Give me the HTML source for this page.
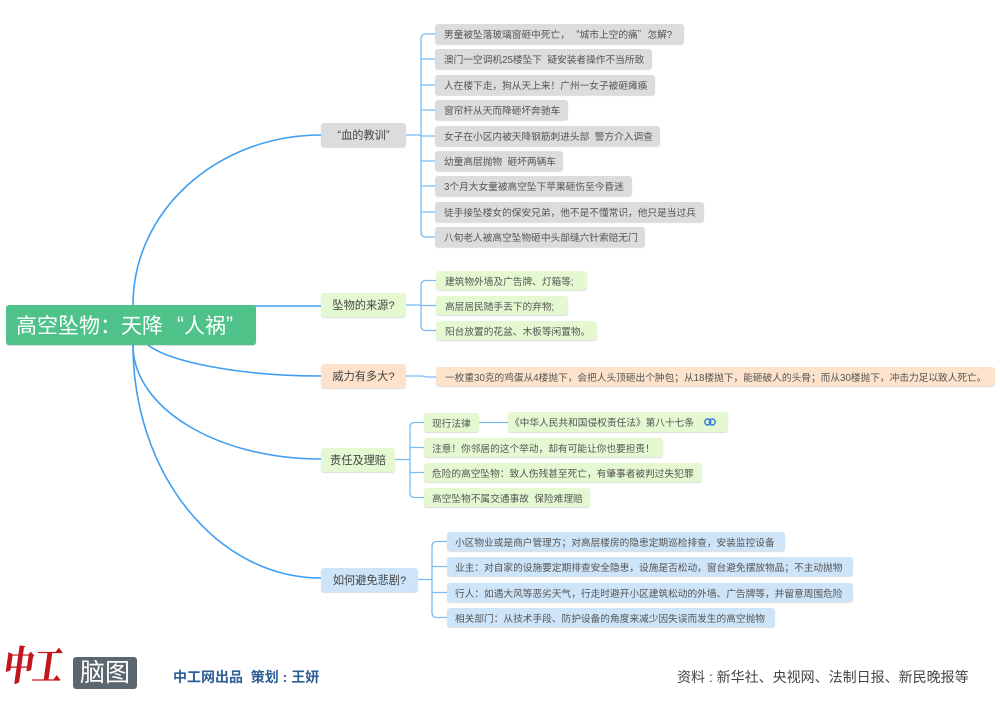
<!DOCTYPE html>
<html><head><meta charset="utf-8">
<style>
*{margin:0;padding:0;box-sizing:border-box}
body{width:1000px;height:710px;background:#fff;position:relative;overflow:hidden;font-family:"Liberation Sans","Noto Sans CJK SC",sans-serif}
svg{position:absolute;left:0;top:0}
.b{position:absolute;white-space:nowrap;border-radius:3px;box-shadow:0 1px 1px rgba(0,0,0,.14);display:flex;align-items:center}
.lf{font-size:9.7px;color:#555;padding-left:9px;height:20px}
.nd{font-size:11.2px;color:#444;justify-content:center;height:24px}
.g{background:#dcdcdc}
.gr{background:#e4f8d2}
.pe{background:#fde3cb}
.bl{background:#cde4f9}
.q{display:inline-block;width:1em}
.ql{text-align:right}
.qr{text-align:left}
</style></head><body>
<svg width="1000" height="710" viewBox="0 0 1000 710" fill="none">
<g stroke="#3f9ff2" stroke-width="1.6">
<path d="M133,305 C133,211 217,135 321,135"/>
<path d="M240,306 H321"/>
<path d="M148,345 C170,362 240,376 321,376"/>
<path d="M133,345 C133,408 217,459 321,459"/>
<path d="M133,345 C133,474 217,578 321,578"/>
</g>
<g stroke="#7dbcf2" stroke-width="1.3">
<path d="M406,135 H421"/>
<path d="M435,34 H426 Q421,34 421,39 V232 Q421,237 426,237 H435"/>
<path d="M421,59 H435 M421,85 H435 M421,110 H435 M421,136 H435 M421,161 H435 M421,186 H435 M421,212 H435"/>
<path d="M406,305 H421"/>
<path d="M436,280.5 H426 Q421,280.5 421,285.5 V325.5 Q421,330.5 426,330.5 H436"/>
<path d="M421,305.5 H436"/>
<path d="M406,376 H421 Q424,376 426,377 H436"/>
<path d="M395,459.5 H410"/>
<path d="M424,422.5 H415 Q410,422.5 410,427.5 V492.5 Q410,497.5 415,497.5 H424"/>
<path d="M410,447.5 H424 M410,472.5 H424"/>
<path d="M479,422.5 H508"/>
<path d="M418,579.5 H432"/>
<path d="M447,541.5 H437 Q432,541.5 432,546.5 V612.5 Q432,617.5 437,617.5 H447"/>
<path d="M432,566.5 H447 M432,592.5 H447"/>
</g>
</svg>

<!-- root -->
<div class="b" style="left:6px;top:305px;width:250px;height:40px;background:#4fc28a;color:#fff;font-size:21px;padding-left:10px;">高空坠物：天降<span class="q ql">“</span>人祸<span class="q qr">”</span></div>

<!-- branch 1 -->
<div class="b nd g" style="left:321px;top:123px;width:85px;"><span class="q ql" style="width:.7em">“</span>血的教训<span class="q qr" style="width:.7em">”</span></div>
<div class="b lf g" style="left:435px;top:24px;width:249px;">男童被坠落玻璃窗砸中死亡，<span class="q ql">“</span>城市上空的痛<span class="q qr">”</span>怎解?</div>
<div class="b lf g" style="left:435px;top:49px;width:217px;">澳门一空调机25楼坠下&nbsp;&nbsp;疑安装者操作不当所致</div>
<div class="b lf g" style="left:435px;top:75px;width:220px;">人在楼下走，狗从天上来！广州一女子被砸瘫痪</div>
<div class="b lf g" style="left:435px;top:100px;width:133px;">窗帘杆从天而降砸坏奔驰车</div>
<div class="b lf g" style="left:435px;top:126px;width:225px;">女子在小区内被天降钢筋刺进头部&nbsp;&nbsp;警方介入调查</div>
<div class="b lf g" style="left:435px;top:151px;width:128px;">幼童高层抛物&nbsp;&nbsp;砸坏两辆车</div>
<div class="b lf g" style="left:435px;top:176px;width:197px;">3个月大女童被高空坠下苹果砸伤至今昏迷</div>
<div class="b lf g" style="left:435px;top:202px;width:269px;">徒手接坠楼女的保安兄弟，他不是不懂常识，他只是当过兵</div>
<div class="b lf g" style="left:435px;top:227px;width:210px;">八旬老人被高空坠物砸中头部缝六针索赔无门</div>

<!-- branch 2 -->
<div class="b nd gr" style="left:321px;top:293px;width:85px;">坠物的来源?</div>
<div class="b lf gr" style="left:436px;top:271px;width:151px;height:19px;">建筑物外墙及广告牌、灯箱等;</div>
<div class="b lf gr" style="left:436px;top:296px;width:132px;height:19px;">高层居民随手丢下的弃物;</div>
<div class="b lf gr" style="left:436px;top:321px;width:161px;height:19px;">阳台放置的花盆、木板等闲置物。</div>

<!-- branch 3 -->
<div class="b nd pe" style="left:321px;top:364px;width:85px;">威力有多大?</div>
<div class="b lf pe" style="left:436px;top:367px;width:559px;height:19px;">一枚重30克的鸡蛋从4楼抛下，会把人头顶砸出个肿包；从18楼抛下，能砸破人的头骨；而从30楼抛下，冲击力足以致人死亡。</div>

<!-- branch 4 -->
<div class="b nd gr" style="left:321px;top:448px;width:74px;">责任及理赔</div>
<div class="b lf gr" style="left:424px;top:413px;width:55px;height:19px;padding-left:8px;">现行法律</div>
<div class="b lf gr" style="left:508px;top:412px;width:220px;padding-left:2px;">《中华人民共和国侵权责任法》第八十七条
<svg style="position:absolute;left:196px;top:6px" width="12" height="8" viewBox="0 0 12 8" fill="none" stroke="#2f7fd8" stroke-width="1.4"><rect x="0.8" y="1" width="6" height="6" rx="3"/><rect x="5.2" y="1" width="6" height="6" rx="3"/></svg></div>
<div class="b lf gr" style="left:424px;top:438px;width:239px;height:19px;padding-left:8px;">注意！你邻居的这个举动，却有可能让你也要担责！</div>
<div class="b lf gr" style="left:424px;top:463px;width:278px;height:19px;padding-left:8px;">危险的高空坠物：致人伤残甚至死亡，有肇事者被判过失犯罪</div>
<div class="b lf gr" style="left:424px;top:488px;width:166px;height:19px;padding-left:8px;">高空坠物不属交通事故&nbsp;&nbsp;保险难理赔</div>

<!-- branch 5 -->
<div class="b nd bl" style="left:321px;top:568px;width:97px;">如何避免悲剧?</div>
<div class="b lf bl" style="left:447px;top:532px;width:338px;height:19px;padding-left:8px;">小区物业或是商户管理方；对高层楼房的隐患定期巡检排查，安装监控设备</div>
<div class="b lf bl" style="left:447px;top:557px;width:406px;height:19px;padding-left:8px;">业主：对自家的设施要定期排查安全隐患，设施是否松动，窗台避免摆放物品；不主动抛物</div>
<div class="b lf bl" style="left:447px;top:583px;width:406px;height:19px;padding-left:8px;">行人：如遇大风等恶劣天气，行走时避开小区建筑松动的外墙、广告牌等，并留意周围危险</div>
<div class="b lf bl" style="left:447px;top:608px;width:328px;height:19px;padding-left:8px;">相关部门：从技术手段、防护设备的角度来减少因失误而发生的高空抛物</div>

<!-- footer -->
<div style="position:absolute;left:7px;top:645px;width:64px;height:48px;font-family:'Liberation Serif','Noto Serif CJK SC',serif;font-weight:900;font-size:30px;line-height:34px;color:#c3151c;transform:skewX(-8deg) scaleY(1.35);transform-origin:0 0;white-space:nowrap;letter-spacing:-1px;">中工</div>
<div style="position:absolute;left:73px;top:657px;width:64px;height:32px;background:#5b666f;border-radius:3px;color:#fff;font-size:25px;line-height:32px;text-align:center;">脑图</div>
<div style="position:absolute;left:173px;top:668px;font-size:14px;line-height:18px;font-weight:bold;color:#2d5e96;white-space:nowrap;">中工网出品&nbsp;&nbsp;策划 : 王妍</div>
<div style="position:absolute;left:677px;top:668px;font-size:14px;line-height:18px;color:#444;white-space:nowrap;">资料 : 新华社、央视网、法制日报、新民晚报等</div>
</body></html>
